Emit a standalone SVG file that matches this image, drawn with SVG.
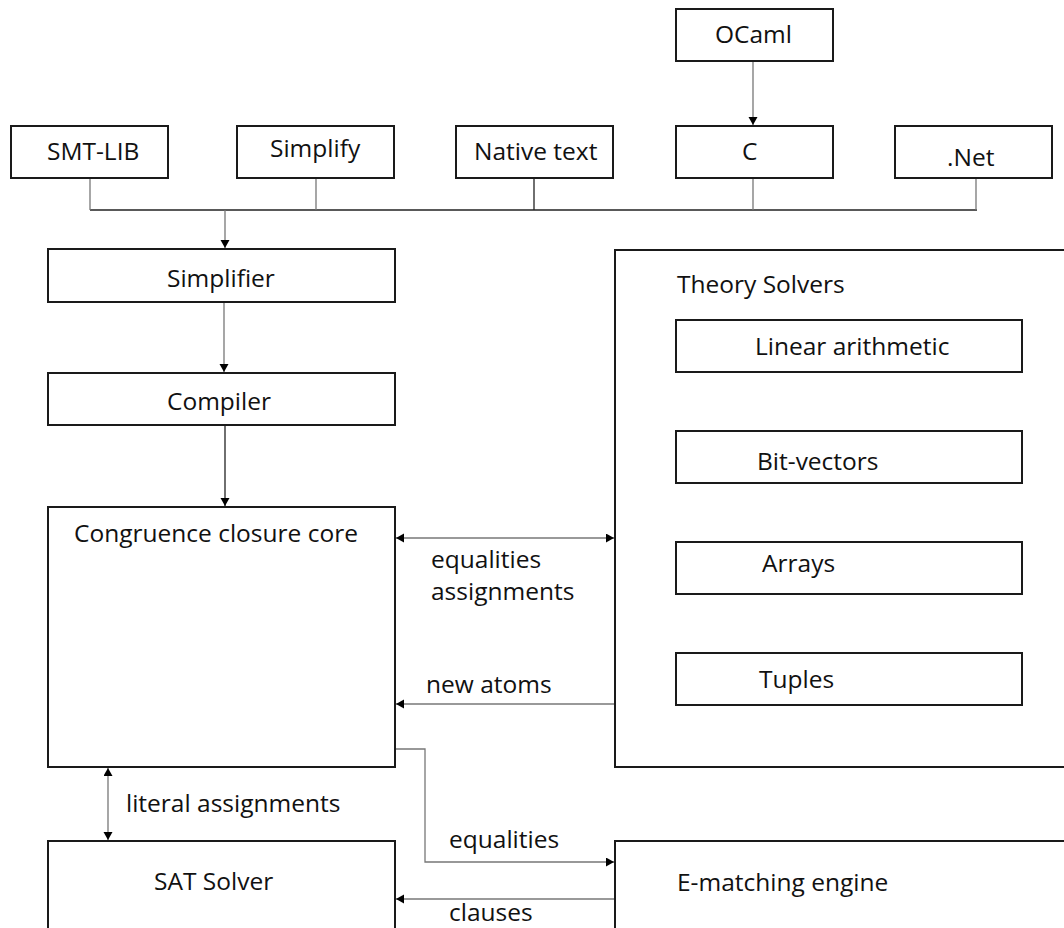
<svg xmlns="http://www.w3.org/2000/svg" width="1064" height="928" viewBox="0 0 1064 928">
<defs>
<style>
.box{fill:#fff;stroke:#1a1a1a;stroke-width:2}
.t{font-family:"Open Sans","Noto Sans",sans-serif;font-size:24.5px;fill:#111}
.c{fill:none;stroke:#222;stroke-width:1.3}
.g{fill:none;stroke:#777;stroke-width:1.3}
</style>
<marker id="ah" markerWidth="10" markerHeight="10" refX="8" refY="4.5" orient="auto-start-reverse" markerUnits="userSpaceOnUse">
<path d="M0,0 L8,4.5 L0,9 Z" fill="#000"/>
</marker>
</defs>
<rect width="1064" height="928" fill="#fff"/>
<g id="connectors">
<path class="c" d="M90,210 H977"/>
<path class="g" d="M90,178 V210"/>
<path class="g" d="M316,178 V210"/>
<path class="c" d="M534,178 V210"/>
<path class="g" d="M753,178 V210"/>
<path class="g" d="M976,178 V210"/>
<path class="g" d="M225,210 V248" marker-end="url(#ah)"/>
<path class="g" d="M753,61 V125" marker-end="url(#ah)"/>
<path class="g" d="M224,302 V372" marker-end="url(#ah)"/>
<path class="c" d="M225,425 V506" marker-end="url(#ah)"/>
<path class="g" d="M396,538 H614" marker-start="url(#ah)" marker-end="url(#ah)"/>
<path class="g" d="M615,704 H396" marker-end="url(#ah)"/>
<path class="g" d="M108,768 V840" marker-start="url(#ah)" marker-end="url(#ah)"/>
<path class="g" d="M395,749 H425 V862 H614" marker-end="url(#ah)"/>
<path class="g" d="M615,899 H396" marker-end="url(#ah)"/>
<text class="t" x="431" y="568">equalities</text>
<text class="t" x="431" y="600">assignments</text>
<text class="t" x="426" y="693">new atoms</text>
<text class="t" x="126" y="812">literal assignments</text>
<text class="t" x="449" y="848">equalities</text>
<text class="t" x="449" y="921">clauses</text>
</g>
<g id="ocaml"><rect class="box" x="676" y="9" width="157" height="52"/><text class="t" x="715" y="43">OCaml</text></g>
<g id="smtlib"><rect class="box" x="11" y="126" width="157" height="52"/><text class="t" x="47" y="160">SMT-LIB</text></g>
<g id="simplify"><rect class="box" x="237" y="126" width="157" height="52"/><text class="t" x="270" y="157">Simplify</text></g>
<g id="native"><rect class="box" x="456" y="126" width="157" height="52"/><text class="t" x="474" y="160">Native text</text></g>
<g id="c"><rect class="box" x="676" y="126" width="157" height="52"/><text class="t" x="742" y="160">C</text></g>
<g id="net"><rect class="box" x="895" y="126" width="157" height="52"/><text class="t" x="947" y="166">.Net</text></g>
<g id="simplifier"><rect class="box" x="48" y="249" width="347" height="53"/><text class="t" x="167" y="287">Simplifier</text></g>
<g id="compiler"><rect class="box" x="48" y="373" width="347" height="52"/><text class="t" x="167" y="410">Compiler</text></g>
<g id="congruence"><rect class="box" x="48" y="507" width="347" height="260"/><text class="t" x="74" y="542">Congruence closure core</text></g>
<g id="theory"><rect class="box" x="615" y="250" width="460" height="517"/><text class="t" x="677" y="293">Theory Solvers</text></g>
<g id="linear"><rect class="box" x="676" y="320" width="346" height="52"/><text class="t" x="755" y="355">Linear arithmetic</text></g>
<g id="bitvectors"><rect class="box" x="676" y="431" width="346" height="52"/><text class="t" x="757" y="470">Bit-vectors</text></g>
<g id="arrays"><rect class="box" x="676" y="542" width="346" height="52"/><text class="t" x="762" y="572">Arrays</text></g>
<g id="tuples"><rect class="box" x="676" y="653" width="346" height="52"/><text class="t" x="759" y="688">Tuples</text></g>
<g id="sat"><rect class="box" x="48" y="841" width="347" height="100"/><text class="t" x="154" y="890">SAT Solver</text></g>
<g id="ematching"><rect class="box" x="615" y="841" width="460" height="100"/><text class="t" x="677" y="891">E-matching engine</text></g>
</svg>
